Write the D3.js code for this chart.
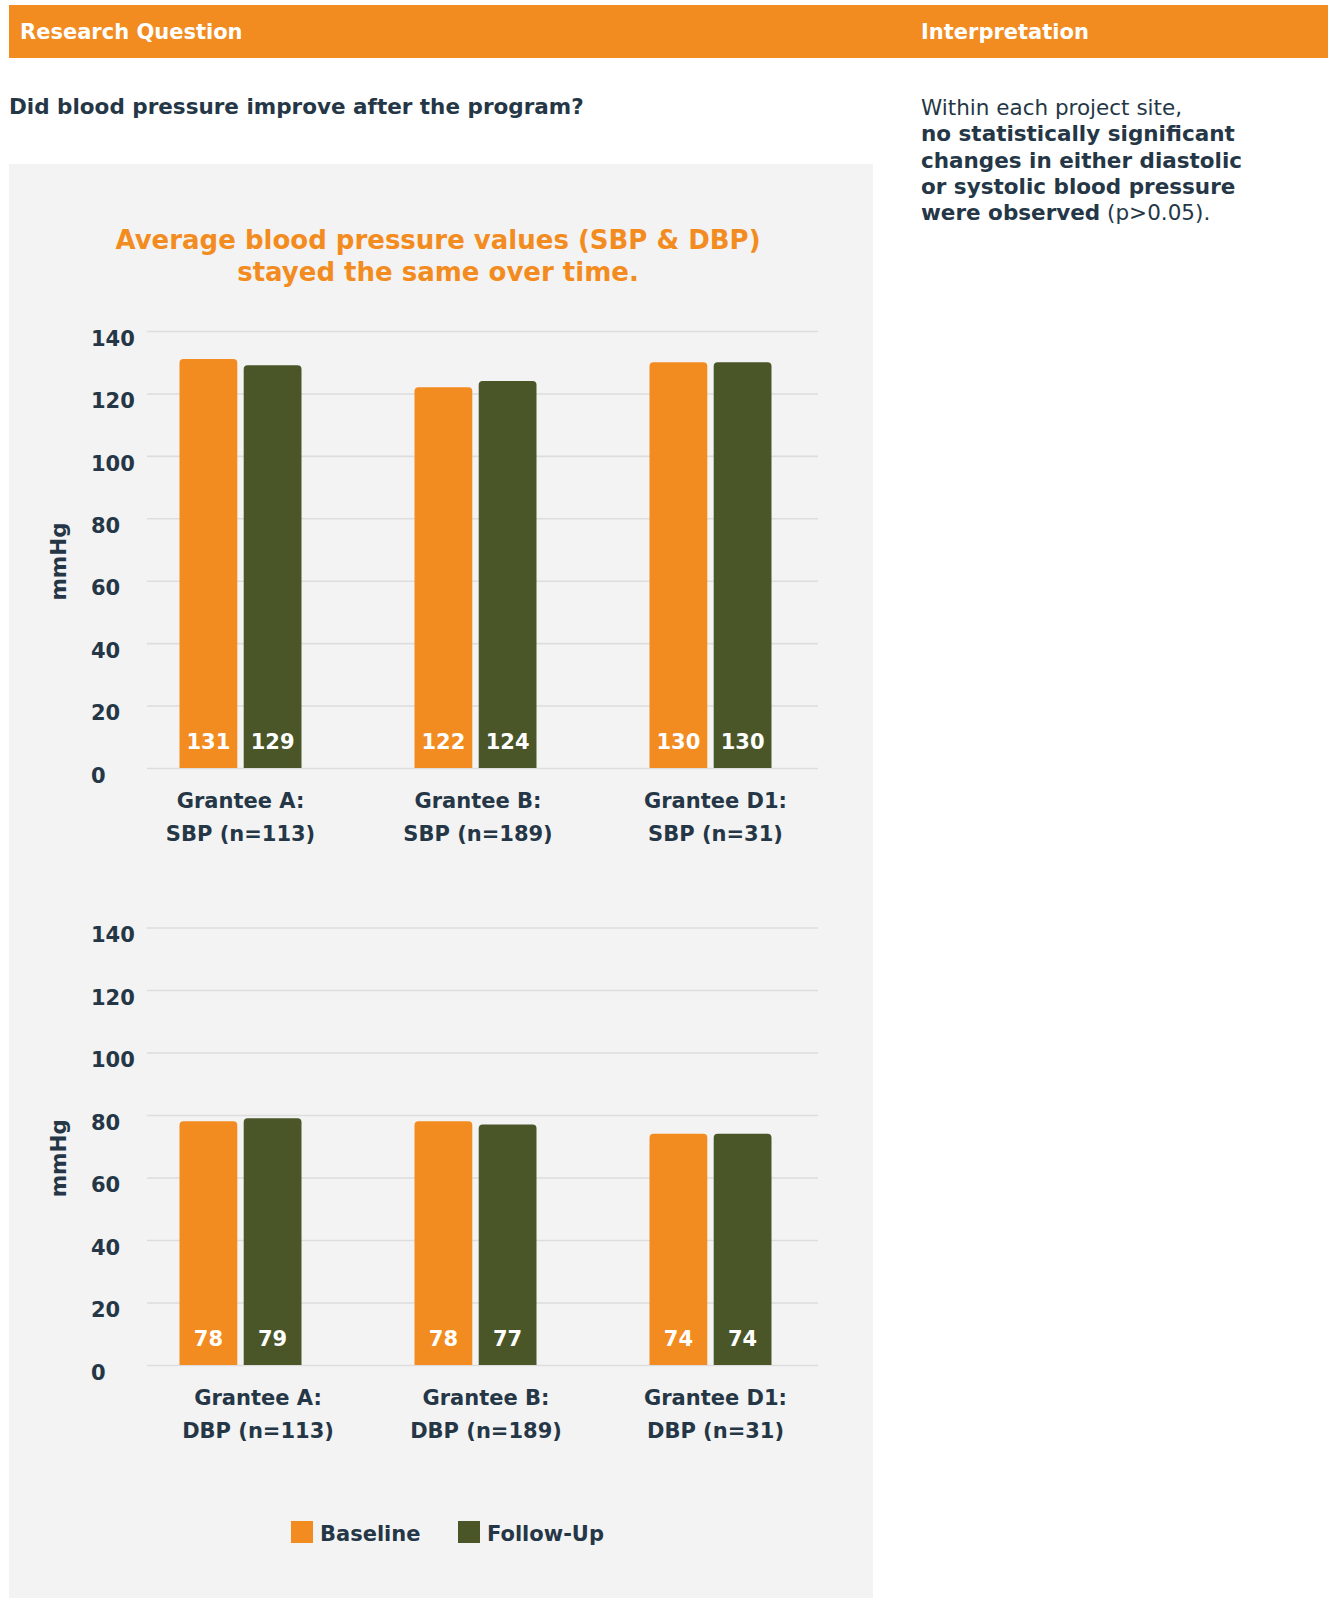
<!DOCTYPE html>
<html>
<head>
<meta charset="utf-8">
<script src="https://cdn.jsdelivr.net/npm/d3@7"></script>
<style>
  html, body { margin: 0; padding: 0; background: #ffffff; }
  svg { display: block; }
  text { font-family: "DejaVu Sans", sans-serif; }
</style>
</head>
<body>
<svg id="chart" width="1328" height="1598"></svg>
<script>
// ---------------- DATA ----------------
const sites = ["Grantee A", "Grantee B", "Grantee D1"];
const sampleSizes = [113, 189, 31];
const series = ["Baseline", "Follow-Up"];
const sbpBaseline = [131, 122, 130];
const sbpFollowUp = [129, 124, 130];
const dbpBaseline = [78, 78, 74];
const dbpFollowUp = [79, 77, 74];
const yTicks = [0, 20, 40, 60, 80, 100, 120, 140];
const seriesColors = ["#F38C20", "#4A5628"];

const headerLeft = "Research Question";
const headerRight = "Interpretation";
const question = "Did blood pressure improve after the program?";
const chartTitle = ["Average blood pressure values (SBP & DBP)", "stayed the same over time."];
const yAxisTitle = "mmHg";
const interpretation = [
  [{t: "Within each project site,", b: false}],
  [{t: "no statistically significant", b: true}],
  [{t: "changes in either diastolic", b: true}],
  [{t: "or systolic blood pressure", b: true}],
  [{t: "were observed", b: true}, {t: " (p>0.05).", b: false}]
];

// ---------------- STYLE ----------------
const NAVY = "#253746";
const ORANGE = "#F38C20";
const PANEL = "#F3F3F3";
const GRID = "#DDDDDD";

const svg = d3.select("#chart");

// header bar
svg.append("rect").attr("x", 9).attr("y", 5).attr("width", 1319).attr("height", 53).attr("fill", "#F28C20");
svg.append("text").attr("x", 20).attr("y", 39).attr("fill", "#fff")
  .attr("font-size", 21).attr("font-weight", 700).text(headerLeft);
svg.append("text").attr("x", 921).attr("y", 39).attr("fill", "#fff")
  .attr("font-size", 21).attr("font-weight", 700).text(headerRight);

// question
svg.append("text").attr("x", 9).attr("y", 114).attr("fill", NAVY)
  .attr("font-size", 21.5).attr("font-weight", 700).text(question);

// interpretation text
const interp = svg.append("text").attr("x", 921).attr("y", 115).attr("fill", NAVY).attr("font-size", 21.5);
interpretation.forEach((line, i) => {
  line.forEach((seg, j) => {
    const ts = interp.append("tspan").attr("font-weight", seg.b ? 700 : 400).text(seg.t);
    if (j === 0) ts.attr("x", 921).attr("y", 115 + i * 26.3);
  });
});

// panel
svg.append("rect").attr("x", 9).attr("y", 164).attr("width", 864).attr("height", 1434).attr("fill", PANEL);

// title
chartTitle.forEach((t, i) => {
  svg.append("text").attr("x", 438).attr("y", 249 + i * 32).attr("text-anchor", "middle")
    .attr("fill", ORANGE).attr("font-size", 26).attr("font-weight", 700).text(t);
});

// ---------------- CHARTS ----------------
const gridLeft = 147, gridRight = 818;

function topRounded(x, y, w, h, r) {
  r = Math.min(r, h, w / 2);
  return `M${x},${y + h}V${y + r}Q${x},${y} ${x + r},${y}H${x + w - r}Q${x + w},${y} ${x + w},${y + r}V${y + h}Z`;
}

function drawChart(yBottom, yTop, baseVals, fuVals, measure, labelShift) {
  const g = svg.append("g");
  const y = d3.scaleLinear().domain([0, 140]).range([yBottom, yTop]);
  const x0 = d3.scaleBand().domain(sites).range([123, 828]);
  const x1 = d3.scaleBand().domain(series)
    .range([x0.bandwidth() / 2 - 61, x0.bandwidth() / 2 + 61]).paddingInner(0.1);

  // y axis with gridlines
  const yAxis = g.append("g").attr("transform", `translate(${gridLeft},0)`)
    .call(d3.axisLeft(y).tickValues(yTicks).tickSize(-(gridRight - gridLeft)).tickPadding(0));
  yAxis.select(".domain").remove();
  yAxis.selectAll(".tick line").attr("stroke", GRID).attr("stroke-width", 1.6);
  yAxis.selectAll(".tick text")
    .attr("x", 91 - gridLeft).attr("text-anchor", "start").attr("dy", "0.68em")
    .attr("fill", NAVY).attr("font-size", 21).attr("font-weight", 700)
    .attr("font-family", "DejaVu Sans, sans-serif");

  // y title
  g.append("text")
    .attr("transform", `translate(${66},${(yBottom + yTop) / 2 + 12}) rotate(-90)`)
    .attr("text-anchor", "middle").attr("fill", NAVY)
    .attr("font-size", 21.5).attr("font-weight", 700).text(yAxisTitle);

  // bars
  const data = sites.map((s, i) => ({site: s, vals: [baseVals[i], fuVals[i]]}));
  const groups = g.selectAll(".grp").data(data).join("g").attr("class", "grp")
    .attr("transform", d => `translate(${x0(d.site)},0)`);
  groups.selectAll("path").data(d => d.vals.map((v, k) => ({s: series[k], v, k})))
    .join("path")
    .attr("d", d => topRounded(x1(d.s), y(d.v), x1.bandwidth(), y(0) - y(d.v), 4))
    .attr("fill", d => seriesColors[d.k]);
  groups.selectAll("text.val").data(d => d.vals.map((v, k) => ({s: series[k], v})))
    .join("text").attr("class", "val")
    .attr("x", d => x1(d.s) + x1.bandwidth() / 2).attr("y", y(0) - 19)
    .attr("text-anchor", "middle").attr("fill", "#fff")
    .attr("font-size", 21).attr("font-weight", 700).text(d => d.v);

  // x axis labels
  const xAxis = g.append("g").attr("transform", `translate(0,${y(0)})`)
    .call(d3.axisBottom(x0).tickSize(0).tickFormat(""));
  xAxis.select(".domain").remove();
  xAxis.selectAll(".tick").each(function(d, i) {
    const t = d3.select(this).append("text").attr("text-anchor", "middle")
      .attr("fill", NAVY).attr("font-size", 21).attr("font-weight", 700)
      .attr("font-family", "DejaVu Sans, sans-serif");
    t.append("tspan").attr("x", labelShift[i]).attr("y", 40).text(`${d}:`);
    t.append("tspan").attr("x", labelShift[i]).attr("y", 73).text(`${measure} (n=${sampleSizes[i]})`);
  });
}

drawChart(768, 331, sbpBaseline, sbpFollowUp, "SBP", [0, 2.5, 5]);
drawChart(1365, 927.5, dbpBaseline, dbpFollowUp, "DBP", [17.5, 10.5, 5]);

// legend
const legend = svg.append("g");
const legendX = [291, 458];
series.forEach((s, i) => {
  legend.append("rect").attr("x", legendX[i]).attr("y", 1521).attr("width", 22).attr("height", 22)
    .attr("fill", seriesColors[i]);
  legend.append("text").attr("x", legendX[i] + 29).attr("y", 1541).attr("fill", NAVY)
    .attr("font-size", 21).attr("font-weight", 700).text(s);
});
</script>
</body>
</html>
